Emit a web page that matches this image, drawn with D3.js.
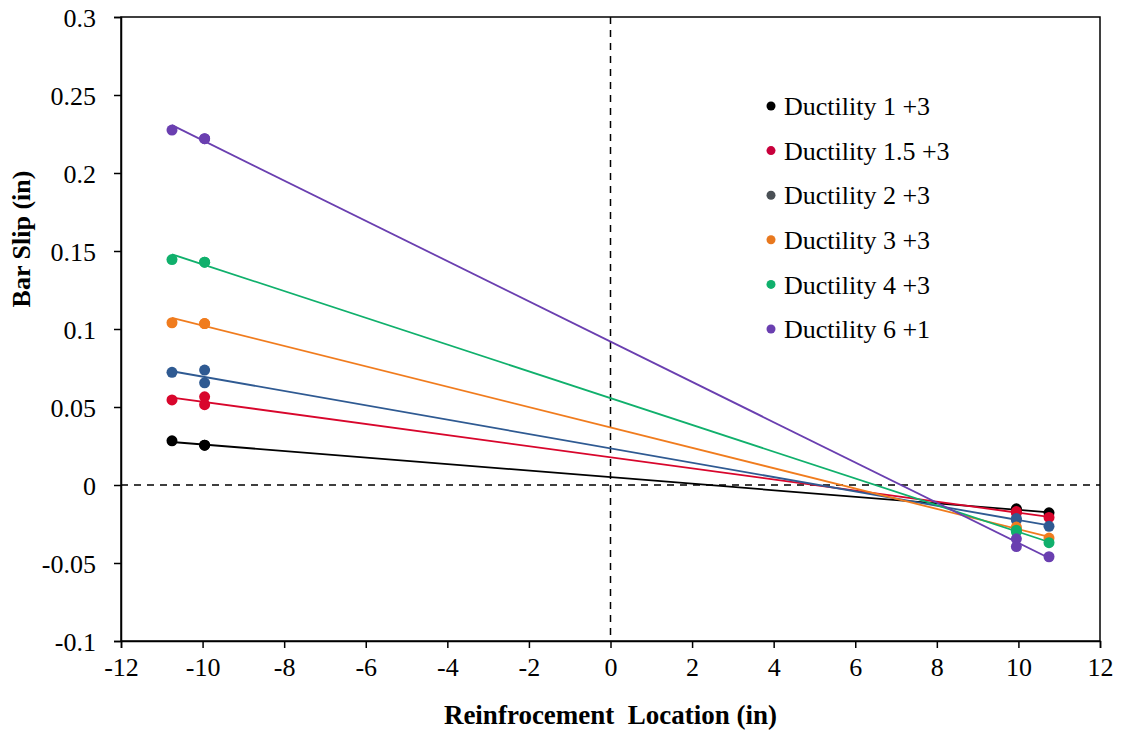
<!DOCTYPE html>
<html><head><meta charset="utf-8">
<script src="https://cdn.jsdelivr.net/npm/d3@7"></script>
<style>body{margin:0;background:#fff}svg{display:block}text{font-family:"Liberation Serif","Times New Roman",serif}</style>
</head><body><svg id="c" width="1122" height="734"></svg>
<script>
const seriesNames = ["Ductility 1 +3","Ductility 1.5 +3","Ductility 2 +3","Ductility 3 +3","Ductility 4 +3","Ductility 6 +1"];
const seriesColors = ["#000000","#d8062c","#2f5a92","#f07c1e","#10b06c","#6a3fb0"];
const legendColors = ["#000000","#c8003c","#4a5055","#e8781e","#10b06c","#6a3fb0"];
const xLoc = [-10.75,-9.95,-9.95,9.95,9.95,10.75];
const slip1  = [0.0283,0.0255,0.0255,-0.0153,-0.0160,-0.0178];
const slip15 = [0.0545,0.0565,0.0515,-0.0170,-0.0180,-0.0208];
const slip2  = [0.0722,0.0737,0.0655,-0.0215,-0.0225,-0.0265];
const slip3  = [0.1040,0.1035,0.1035,-0.0270,-0.0285,-0.0340];
const slip4  = [0.1445,0.1428,0.1428,-0.0290,-0.0300,-0.0370];
const slip6  = [0.2275,0.2220,0.2220,-0.0345,-0.0395,-0.0460];
const allSlip = [slip1,slip15,slip2,slip3,slip4,slip6];
const xTicks = [-12,-10,-8,-6,-4,-2,0,2,4,6,8,10,12];
const yTicks = [-0.1,-0.05,0,0.05,0.1,0.15,0.2,0.25,0.3];

const svg = d3.select("#c");
const L=121,R=1100,T=17,B=641;
const x = d3.scaleLinear().domain([-12,12]).range([L,R]);
const y = d3.scaleLinear().domain([-0.1,0.3]).range([B,T]);

// frame
svg.append("rect").attr("x",L).attr("y",T).attr("width",R-L).attr("height",B-T)
  .attr("fill","none").attr("stroke","#000").attr("stroke-width",1.5);

// dashed zero lines
svg.append("line").attr("x1",x(0)).attr("x2",x(0)).attr("y1",T).attr("y2",B)
  .attr("stroke","#000").attr("stroke-width",1.5).attr("stroke-dasharray","7,6");
svg.append("line").attr("x1",L).attr("x2",R).attr("y1",y(0)).attr("y2",y(0))
  .attr("stroke","#000").attr("stroke-width",1.5).attr("stroke-dasharray","7,6");

// axes
const fmtY = d => d===0?"0":String(+d.toFixed(2));
const gx = svg.append("g").attr("transform",`translate(0,${B})`)
  .call(d3.axisBottom(x).tickValues(xTicks).tickFormat(d=>String(d)).tickSize(7).tickPadding(10));
const gy = svg.append("g").attr("transform",`translate(${L},0)`)
  .call(d3.axisLeft(y).tickValues(yTicks).tickFormat(fmtY).tickSize(7).tickPadding(18));
[gx,gy].forEach(g=>{
  g.select(".domain").attr("stroke","#000").attr("stroke-width",1.5);
  g.selectAll(".tick line").attr("stroke","#000").attr("stroke-width",1.5);
  g.selectAll(".tick text").attr("fill","#000").style("font-family","Liberation Serif").style("font-size","26px");
});
gy.selectAll(".tick text").attr("dy","0.35em");

// trendlines (least squares over each series' points)
allSlip.forEach((vals,i)=>{
  const n=vals.length, mx=d3.mean(xLoc), my=d3.mean(vals);
  let sxy=0,sxx=0;
  for(let k=0;k<n;k++){sxy+=(xLoc[k]-mx)*(vals[k]-my);sxx+=(xLoc[k]-mx)**2;}
  const b=sxy/sxx, a=my-b*mx;
  const x0=d3.min(xLoc), x1=d3.max(xLoc);
  svg.append("line").attr("x1",x(x0)).attr("y1",y(a+b*x0)).attr("x2",x(x1)).attr("y2",y(a+b*x1))
    .attr("stroke",seriesColors[i]).attr("stroke-width",1.8);
});
// points
allSlip.forEach((vals,i)=>{
  svg.append("g").selectAll("circle").data(vals).join("circle")
    .attr("cx",(d,k)=>x(xLoc[k])).attr("cy",d=>y(d)).attr("r",5.5)
    .attr("fill",seriesColors[i]);
});

// legend
const lg = svg.append("g");
seriesNames.forEach((nm,i)=>{
  const cy = 106 + i*44.6;
  lg.append("circle").attr("cx",771).attr("cy",cy).attr("r",4.5).attr("fill",legendColors[i]);
  lg.append("text").attr("x",784).attr("y",cy).attr("dy","0.35em")
    .style("font-size","26px").attr("fill","#000").text(nm);
});

// axis titles
svg.append("text").attr("x",(L+R)/2).attr("y",724).attr("text-anchor","middle")
  .style("font-size","27px").style("font-weight","bold")
  .text("Reinfrocement\u00a0 Location (in)");
svg.append("text").attr("transform",`translate(30,${(T+B)/2-90}) rotate(-90)`).attr("text-anchor","middle")
  .style("font-size","26px").style("font-weight","bold").text("Bar Slip (in)");
</script></body></html>
